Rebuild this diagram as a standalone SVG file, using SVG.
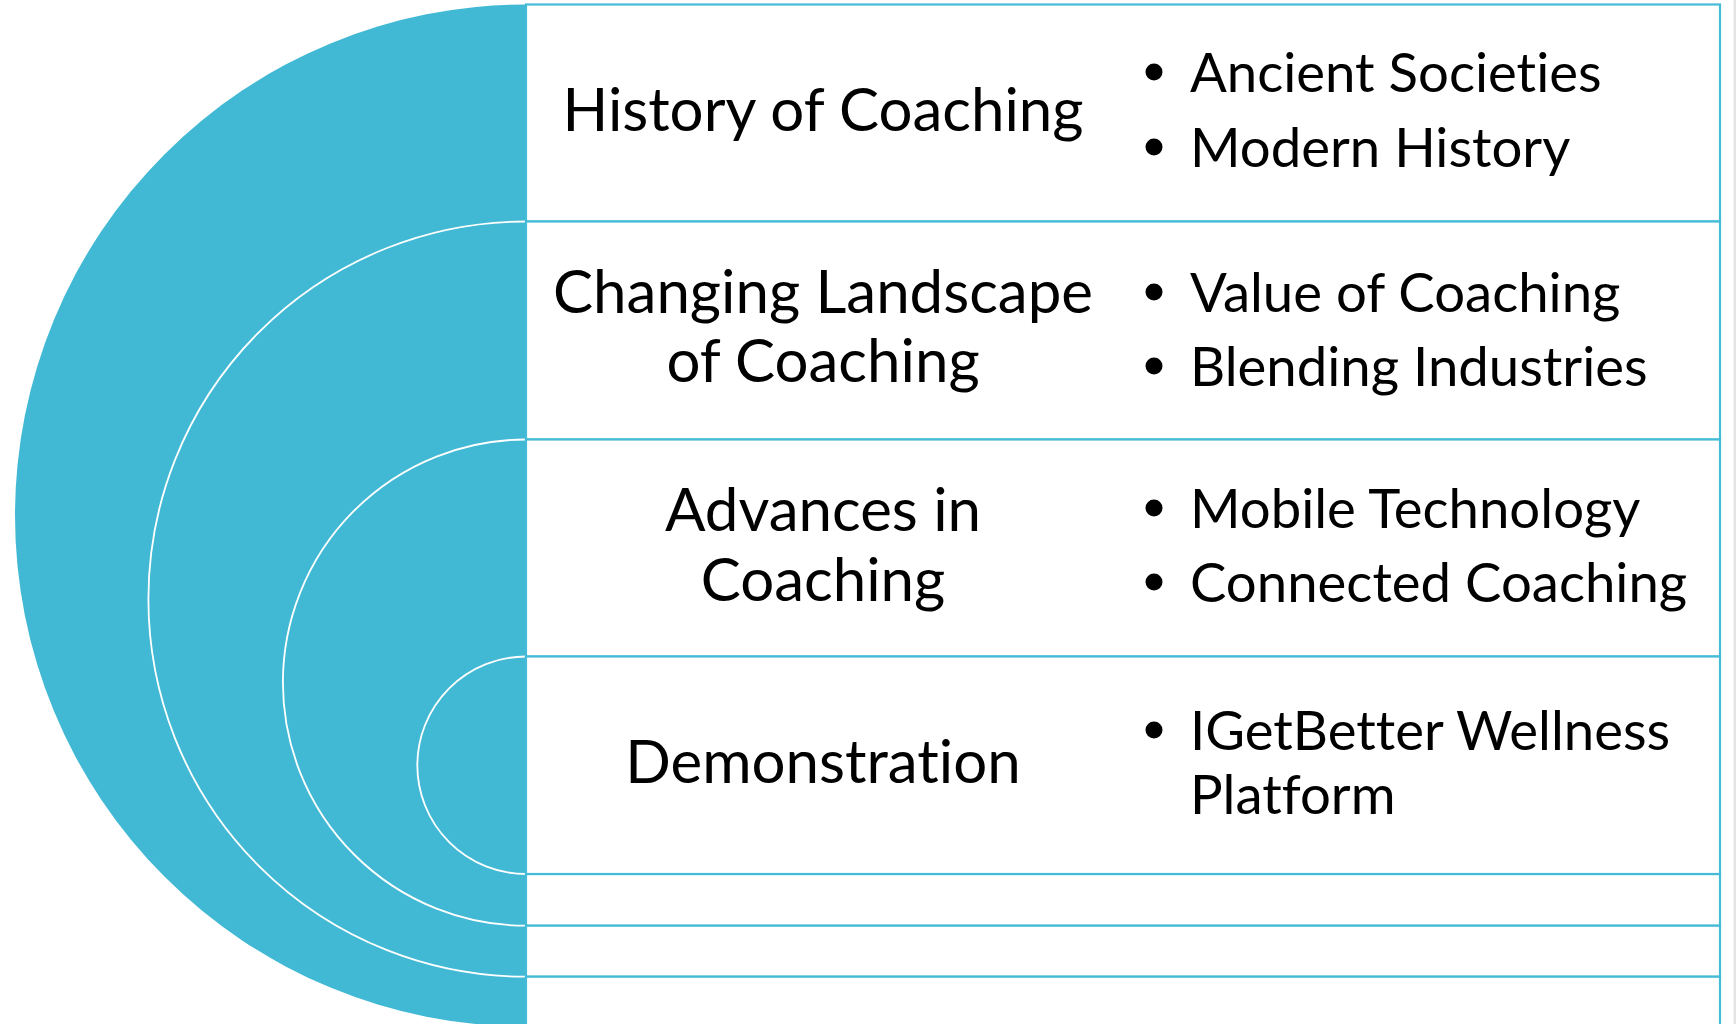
<svg xmlns="http://www.w3.org/2000/svg" width="1736" height="1024" viewBox="0 0 1736 1024">
  <style>
    .disc { fill: #42B9D4; }
    .arc { fill: none; stroke: #FFFFFF; stroke-width: 1.8; }
    .row { fill: #FFFFFF; stroke: #45BCD7; stroke-width: 2.2; }
    .head { font-family: Lato, "Open Sans", "Liberation Sans", sans-serif; font-size: 60px; fill: #000000; text-anchor: middle; font-variant-ligatures: none; }
    .item { font-family: Lato, "Open Sans", "Liberation Sans", sans-serif; font-size: 54.5px; fill: #000000; font-variant-ligatures: none; }
    .dot { fill: #000000; }
  </style>
  <rect x="0" y="0" width="1736" height="1024" fill="#FFFFFF"/>
  <rect x="1733.6" y="0" width="2.4" height="1024" fill="#E4E4E4"/>

  <g id="rings">
    <g id="ring-outer">
      <path class="disc" d="M526,4.5 A511,511 0 0 0 526,1026.5 Z"/>
    </g>
    <g id="ring-2">
      <path class="disc" d="M526,221.5 A377.6,377.6 0 0 0 526,976.7 Z"/>
      <path class="arc" d="M526,221.5 A377.6,377.6 0 0 0 526,976.7"/>
    </g>
    <g id="ring-3">
      <path class="disc" d="M526,439.5 A243.1,243.1 0 0 0 526,925.7 Z"/>
      <path class="arc" d="M526,439.5 A243.1,243.1 0 0 0 526,925.7"/>
    </g>
    <g id="ring-4">
      <path class="disc" d="M526,656.5 A108.75,108.75 0 0 0 526,874 Z"/>
      <path class="arc" d="M526,656.5 A108.75,108.75 0 0 0 526,874"/>
    </g>
  </g>

  <g id="strips">
    <rect class="row" x="526" y="874" width="1194" height="51.7"/>
    <rect class="row" x="526" y="925.7" width="1194" height="51"/>
    <rect class="row" x="526" y="976.7" width="1194" height="60"/>
  </g>

  <g id="row-history">
    <rect class="row" x="526" y="4.5" width="1194" height="217"/>
    <text class="head" x="823" y="131">History of Coaching</text>
    <circle class="dot" cx="1154" cy="72" r="8.5"/>
    <text class="item" x="1190" y="92">Ancient Societies</text>
    <circle class="dot" cx="1154" cy="147" r="8.5"/>
    <text class="item" x="1190" y="167">Modern History</text>
  </g>

  <g id="row-landscape">
    <rect class="row" x="526" y="221.5" width="1194" height="218"/>
    <text class="head" x="823" y="313">Changing Landscape</text>
    <text class="head" x="823" y="382">of Coaching</text>
    <circle class="dot" cx="1154" cy="292" r="8.5"/>
    <text class="item" x="1190" y="312">Value of Coaching</text>
    <circle class="dot" cx="1154" cy="366" r="8.5"/>
    <text class="item" x="1190" y="386">Blending Industries</text>
  </g>

  <g id="row-advances">
    <rect class="row" x="526" y="439.5" width="1194" height="217"/>
    <text class="head" x="823" y="531">Advances in</text>
    <text class="head" x="823" y="601">Coaching</text>
    <circle class="dot" cx="1154" cy="508" r="8.5"/>
    <text class="item" x="1190" y="528">Mobile Technology</text>
    <circle class="dot" cx="1154" cy="582" r="8.5"/>
    <text class="item" x="1190" y="602">Connected Coaching</text>
  </g>

  <g id="row-demo">
    <rect class="row" x="526" y="656.5" width="1194" height="217.5"/>
    <text class="head" x="823" y="783">Demonstration</text>
    <circle class="dot" cx="1154" cy="730" r="8.5"/>
    <text class="item" x="1190" y="750">IGetBetter Wellness</text>
    <text class="item" x="1190" y="814">Platform</text>
  </g>
</svg>
